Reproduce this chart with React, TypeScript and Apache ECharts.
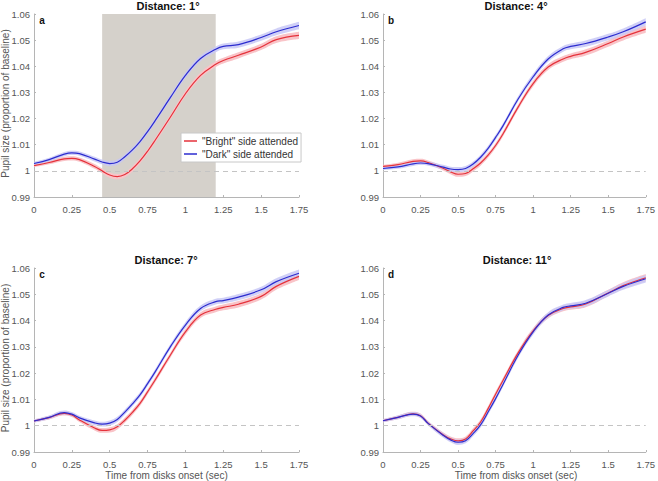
import React, { useEffect, useRef } from "react";
import * as echarts from "echarts";

const time = [0, 0.1, 0.2, 0.25, 0.3, 0.4, 0.45, 0.5, 0.55, 0.6, 0.65, 0.7, 0.75, 0.8, 0.9, 1.0, 1.1, 1.2, 1.25, 1.35, 1.5, 1.6, 1.75];

const brightA = [1.0020, 1.0032, 1.0046, 1.0048, 1.0043, 1.0017, 1.0000, 0.9984, 0.9978, 0.9986, 1.0008, 1.0038, 1.0075, 1.0117, 1.0205, 1.0295, 1.0365, 1.0408, 1.0422, 1.0442, 1.0474, 1.0502, 1.0518];
const darkA = [1.0028, 1.0043, 1.0064, 1.0069, 1.0066, 1.0045, 1.0034, 1.0028, 1.0033, 1.0054, 1.0080, 1.0112, 1.0150, 1.0192, 1.0280, 1.0365, 1.0430, 1.0465, 1.0476, 1.0483, 1.0510, 1.0532, 1.0556];
const brightB = [1.0017, 1.0024, 1.0036, 1.0038, 1.0032, 1.0010, 0.9996, 0.9987, 0.9990, 1.0008, 1.0030, 1.0060, 1.0097, 1.0142, 1.0244, 1.0334, 1.0397, 1.0428, 1.0438, 1.0453, 1.0487, 1.0512, 1.0542];
const darkB = [1.0009, 1.0015, 1.0027, 1.0030, 1.0028, 1.0014, 1.0007, 1.0005, 1.0009, 1.0026, 1.0052, 1.0086, 1.0128, 1.0173, 1.0275, 1.0360, 1.0428, 1.0467, 1.0476, 1.0487, 1.0512, 1.0532, 1.0570];
const brightC = [1.0018, 1.0031, 1.0047, 1.0041, 1.0022, 0.9991, 0.9982, 0.9984, 0.9996, 1.0021, 1.0051, 1.0085, 1.0129, 1.0174, 1.0268, 1.0357, 1.0421, 1.0443, 1.0450, 1.0462, 1.0492, 1.0530, 1.0568];
const darkC = [1.0018, 1.0032, 1.0050, 1.0044, 1.0030, 1.0011, 1.0006, 1.0010, 1.0024, 1.0052, 1.0083, 1.0117, 1.0160, 1.0205, 1.0300, 1.0383, 1.0446, 1.0472, 1.0476, 1.0489, 1.0517, 1.0548, 1.0580];
const brightD = [1.0019, 1.0032, 1.0045, 1.0038, 1.0010, 0.9966, 0.9950, 0.9942, 0.9949, 0.9980, 1.0014, 1.0065, 1.0120, 1.0173, 1.0277, 1.0361, 1.0419, 1.0446, 1.0452, 1.0463, 1.0505, 1.0533, 1.0563];
const darkD = [1.0019, 1.0032, 1.0044, 1.0037, 1.0009, 0.9964, 0.9946, 0.9937, 0.9943, 0.9970, 1.0003, 1.0052, 1.0103, 1.0158, 1.0268, 1.0357, 1.0421, 1.0450, 1.0456, 1.0466, 1.0504, 1.0530, 1.0559];

const sem = [0.0006, 0.0007, 0.0008, 0.0008, 0.0008, 0.0009, 0.0009, 0.0010, 0.0010, 0.0010, 0.0010, 0.0010, 0.0010, 0.0010, 0.0010, 0.0011, 0.0011, 0.0011, 0.0011, 0.0012, 0.0012, 0.0013, 0.0014];

const titles = ["Distance: 1°", "Distance: 4°", "Distance: 7°", "Distance: 11°"];
const letters = ["a", "b", "c", "d"];
const yTicks = [0.99, 1.06, 0.01];
const xTicks = [0, 1.75, 0.25];
const attendWindow = [0.45, 1.2];
const baseline = 1;

const brightName = '"Bright" side attended';
const darkName = '"Dark" side attended';

const RED = "#e5323b";
const BLUE = "#2c2ccf";
const RED_BAND = "#f9c4c8";
const BLUE_BAND = "#c8c8f6";

const layout = [
  { left: 34, top: 14, width: 265, height: 183, titleX: 168, titleY: 6 },
  { left: 383, top: 14, width: 266, height: 183, titleX: 516, titleY: 6 },
  { left: 34, top: 268, width: 265, height: 184, titleX: 166, titleY: 260 },
  { left: 383, top: 268, width: 266, height: 184, titleX: 517, titleY: 260 },
];

export default function App() {
  const ref = useRef<HTMLDivElement>(null);
  useEffect(() => {
    document.body.style.margin = "0";
    const chart = echarts.init(ref.current!, null, { renderer: "svg" });
    const font = "Liberation Sans, Arial, Helvetica, sans-serif";
    const panels = [
      { bright: brightA, dark: darkA },
      { bright: brightB, dark: darkB },
      { bright: brightC, dark: darkC },
      { bright: brightD, dark: darkD },
    ];
    const grids: any[] = [];
    const xAxes: any[] = [];
    const yAxes: any[] = [];
    const series: any[] = [];
    const graphics: any[] = [];
    const axisColor = "#b5b5b5";
    panels.forEach((p, i) => {
      const L = layout[i];
      grids.push({ left: L.left, top: L.top, width: L.width, height: L.height });
      xAxes.push({
        type: "value", gridIndex: i, min: xTicks[0], max: xTicks[1], interval: xTicks[2],
        axisLine: { show: true, lineStyle: { color: axisColor } },
        axisTick: { show: true, inside: true, length: 2, lineStyle: { color: axisColor } },
        splitLine: { show: false },
        axisLabel: { color: "#555", fontSize: 9.5, fontFamily: font, margin: 7 },
      });
      yAxes.push({
        type: "value", gridIndex: i, min: yTicks[0], max: yTicks[1], interval: yTicks[2],
        axisLine: { show: true, lineStyle: { color: axisColor } },
        axisTick: { show: true, inside: true, length: 2, lineStyle: { color: axisColor } },
        splitLine: { show: false },
        axisLabel: {
          color: "#555", fontSize: 9.5, fontFamily: font, margin: 4,
          formatter: (v: number) => String(parseFloat(v.toFixed(2))),
        },
      });
      const addBand = (vals: number[], color: string, opacity: number, key: string) => {
        // data stored as [value, time] so stacking happens on the value dimension
        series.push({
          type: "line", name: key + "lo" + i, xAxisIndex: i, yAxisIndex: i, stack: key + i,
          encode: { x: 1, y: 0 },
          data: time.map((t, k) => [vals[k] - sem[k], t]),
          smooth: 0.4, symbol: "none", lineStyle: { opacity: 0 }, silent: true, z: 2,
          ...(i === 0 && key === "r"
            ? {
                markArea: {
                  silent: true,
                  itemStyle: { color: "#d5d1cb" },
                  data: [[{ xAxis: attendWindow[0] }, { xAxis: attendWindow[1] }]],
                },
              }
            : {}),
        });
        series.push({
          type: "line", name: key + "hi" + i, xAxisIndex: i, yAxisIndex: i, stack: key + i,
          encode: { x: 1, y: 0 },
          data: time.map((t, k) => [2 * sem[k], t]),
          smooth: 0.4, symbol: "none", lineStyle: { opacity: 0 }, silent: true, z: 2,
          areaStyle: { color, opacity },
        });
      };
      addBand(p.bright, RED_BAND, 1, "r");
      addBand(p.dark, BLUE_BAND, 0.85, "b");
      series.push({
        type: "line", name: brightName, xAxisIndex: i, yAxisIndex: i,
        data: time.map((t, k) => [t, p.bright[k]]),
        smooth: 0.4, symbol: "none", lineStyle: { color: RED, width: 1.2 }, itemStyle: { color: RED }, z: 3,
        markLine: {
          silent: true, symbol: "none", label: { show: false },
          lineStyle: { type: [5, 4], color: "#c4c4c4", width: 1 },
          data: [{ yAxis: baseline }],
        },
      });
      series.push({
        type: "line", name: darkName, xAxisIndex: i, yAxisIndex: i,
        data: time.map((t, k) => [t, p.dark[k]]),
        smooth: 0.4, symbol: "none", lineStyle: { color: BLUE, width: 1.2 }, itemStyle: { color: BLUE }, z: 4,
      });
      graphics.push({
        type: "text", x: L.titleX, y: L.titleY, z: 10,
        style: { text: titles[i], fill: "#111", font: `bold 11px ${font}`, align: "center", verticalAlign: "middle" },
      });
      graphics.push({
        type: "text", x: L.left + 8, y: L.top + 6, z: 10,
        style: { text: letters[i], fill: "#111", font: `bold 10px ${font}`, align: "center", verticalAlign: "middle" },
      });
      if (i === 0 || i === 2) {
        graphics.push({
          type: "text", x: 5, y: L.top + L.height / 2 - 2, rotation: Math.PI / 2, z: 10,
          style: { text: "Pupil size (proportion of baseline)", fill: "#555", font: `10px ${font}`, align: "center", verticalAlign: "middle" },
        });
      }
      if (i >= 2) {
        graphics.push({
          type: "text", x: L.left + L.width / 2, y: 475, z: 10,
          style: { text: "Time from disks onset (sec)", fill: "#555", font: `10px ${font}`, align: "center", verticalAlign: "middle" },
        });
      }
    });
    chart.setOption({
      animation: false,
      backgroundColor: "#fff",
      grid: grids,
      xAxis: xAxes,
      yAxis: yAxes,
      series,
      graphic: graphics,
      legend: {
        data: [
          { name: brightName, icon: "rect" },
          { name: darkName, icon: "rect" },
        ],
        left: 181, top: 133, orient: "vertical",
        itemWidth: 13, itemHeight: 1.5, itemGap: 3,
        padding: [3, 3, 3, 3],
        borderColor: "#c8c8c8", borderWidth: 1, backgroundColor: "#fff",
        textStyle: { fontSize: 10, color: "#333", fontFamily: font },
        selectedMode: false,
      },
    });
    return () => chart.dispose();
  }, []);
  return <div ref={ref} style={{ position: "absolute", left: 0, top: 0, width: 658, height: 481 }} />;
}
